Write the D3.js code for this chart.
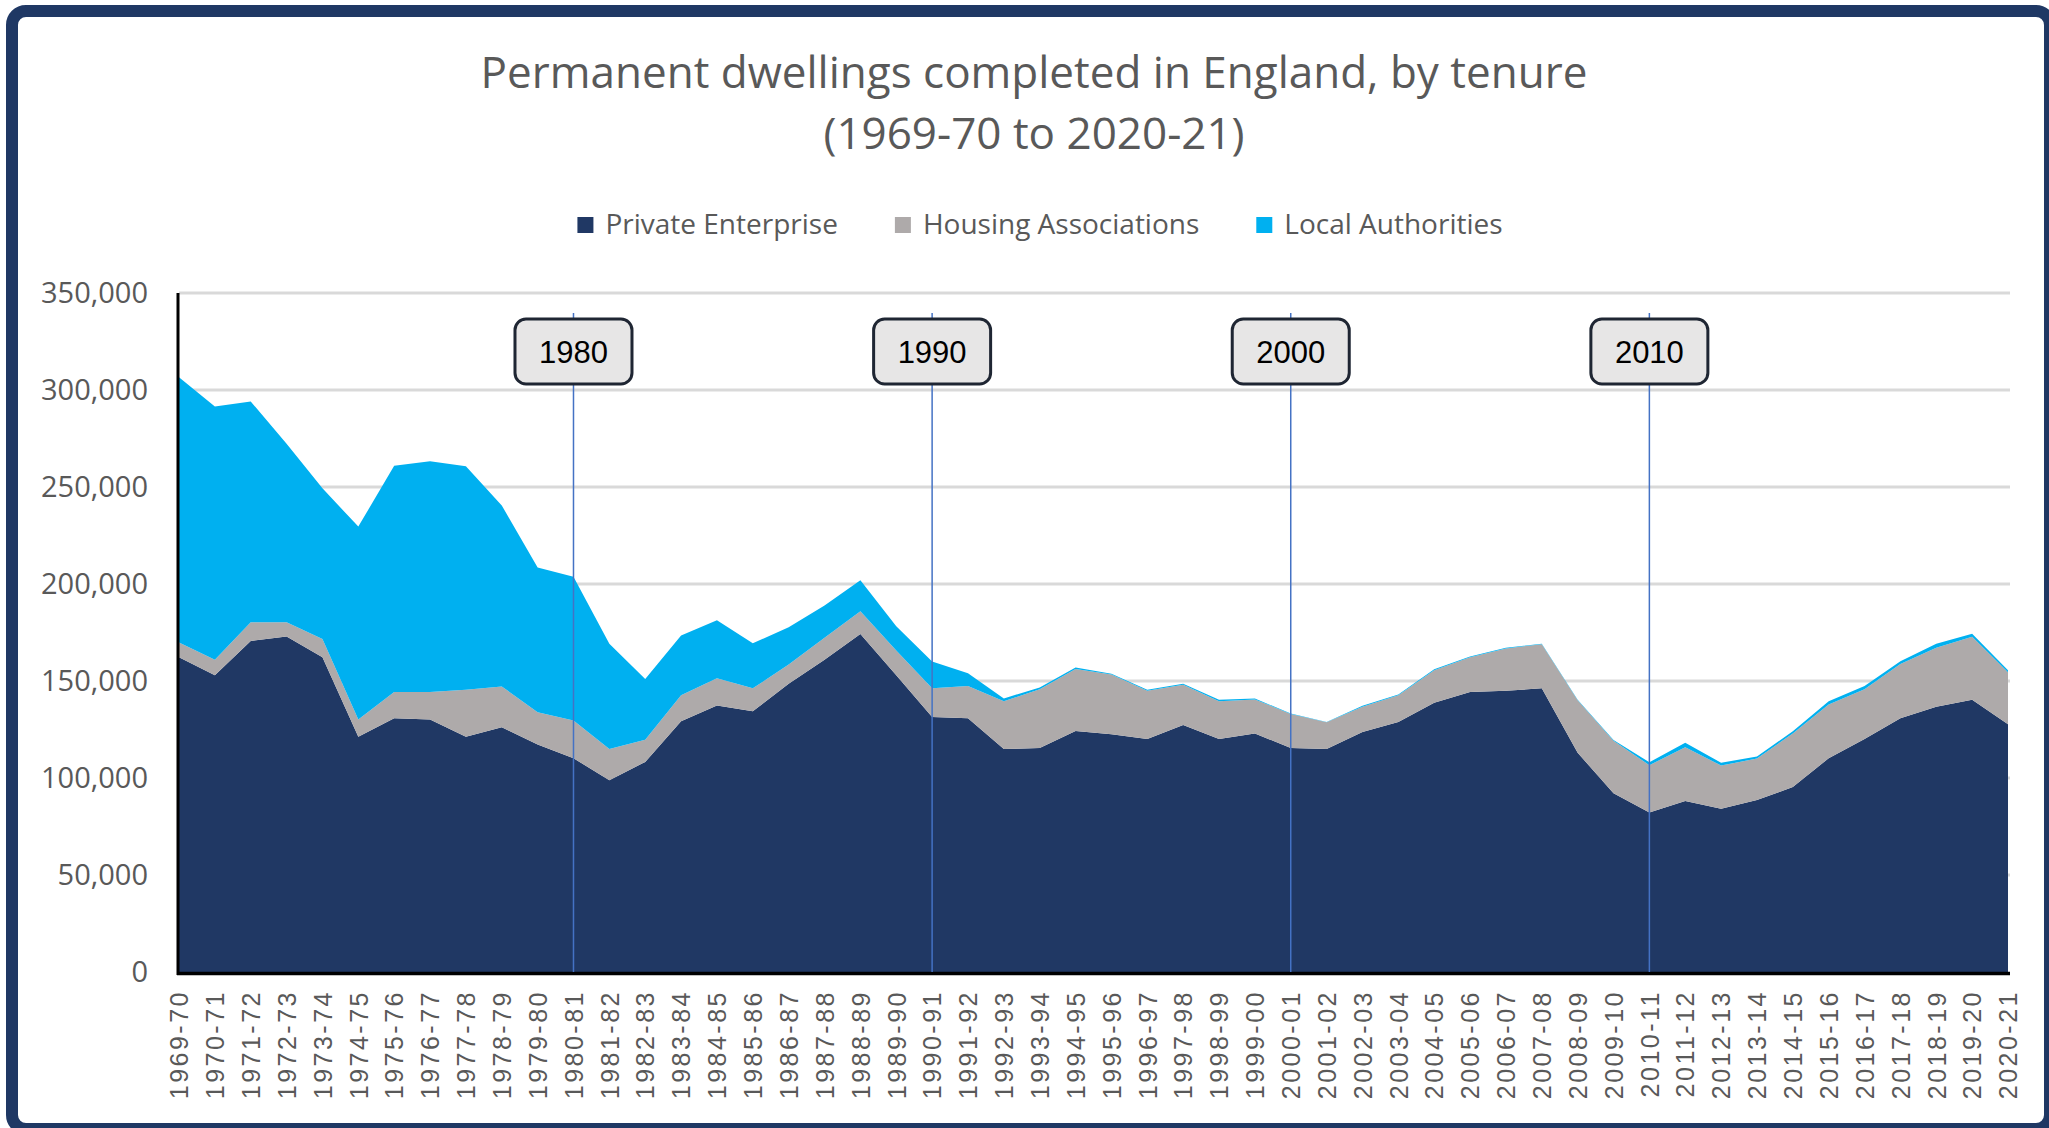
<!DOCTYPE html>
<html><head><meta charset="utf-8">
<script src="https://cdn.jsdelivr.net/npm/d3@7"></script>
<style>body{margin:0;background:#fff;} svg{display:block;}</style>
</head><body><svg id="c" width="2049" height="1128"></svg>
<script>
const titleLines = ["Permanent dwellings completed in England, by tenure", "(1969-70 to 2020-21)"];
const categories = ["1969-70","1970-71","1971-72","1972-73","1973-74","1974-75","1975-76","1976-77","1977-78","1978-79",
  "1979-80","1980-81","1981-82","1982-83","1983-84","1984-85","1985-86","1986-87","1987-88","1988-89",
  "1989-90","1990-91","1991-92","1992-93","1993-94","1994-95","1995-96","1996-97","1997-98","1998-99",
  "1999-00","2000-01","2001-02","2002-03","2003-04","2004-05","2005-06","2006-07","2007-08","2008-09",
  "2009-10","2010-11","2011-12","2012-13","2013-14","2014-15","2015-16","2016-17","2017-18","2018-19",
  "2019-20","2020-21"];
const privateEnterprise = [162300,152900,170600,173000,162300,121300,130800,130100,121300,126100,
  117300,110200,98800,108300,129200,137400,134400,148600,160900,174200,
  152900,131500,130800,114900,115400,124200,122500,120100,127300,120100,
  123000,115400,114900,123700,128900,138800,144300,145000,146200,113000,
  92200,82200,88200,84100,88600,95300,110200,120100,130800,136700,
  140300,127700];
const housingAssociations = [7600,8000,9700,7300,9300,8800,13500,14200,24200,21100,
  16600,19400,16100,11400,13500,14000,11800,9900,11400,11800,
  12800,14700,16600,24700,30300,32000,30800,24900,20800,19500,
  17500,17600,13800,13000,13800,16700,18000,21800,22800,27100,
  27000,24400,27700,22300,21400,27700,27700,25600,28000,30400,
  32500,26800];
const localAuthorities = [136700,130600,113800,92000,77700,99500,116600,119000,115200,93300,
  74600,74200,54300,31300,30800,29900,23200,19200,16600,15900,
  12500,13800,6600,1400,1000,700,500,500,500,700,
  500,200,200,500,300,500,300,300,200,200,
  400,1500,2300,1500,1100,1100,1700,1700,1400,2100,
  1600,1000];
const seriesNames = ["Private Enterprise","Housing Associations","Local Authorities"];
const seriesColors = ["#203864","#AEAAAA","#00B0F0"];
const yTicks = [0,50000,100000,150000,200000,250000,300000,350000];
const decadeLabels = ["1980","1990","2000","2010"];
const decadeCategories = ["1980-81","1990-91","2000-01","2010-11"];

const svg = d3.select("#c");
svg.append("rect").attr("x",12).attr("y",11).attr("width",2038).attr("height",1118)
  .attr("rx",14).attr("fill","#fff").attr("stroke","#1F3864").attr("stroke-width",12);

const L=179, R=2008, T=293, B=972;
const x = d3.scalePoint().domain(categories).range([L,R]);
const y = d3.scaleLinear().domain([0,350000]).range([B,T]);

// title
svg.selectAll("text.title").data(titleLines).join("text").attr("class","title")
  .attr("x",1034).attr("y",(d,i)=>88+i*61).attr("text-anchor","middle")
  .style("font-family","'Open Sans'").style("font-size","44px").style("fill","#595959")
  .text(d=>d);

// gridlines
svg.append("g").selectAll("line").data(yTicks.filter(t=>t>0)).join("line")
  .attr("x1",L).attr("x2",R+2).attr("y1",d=>y(d)).attr("y2",d=>y(d))
  .attr("stroke","#D9D9D9").attr("stroke-width",3);

// stacked areas
const table = categories.map((c,i)=>({cat:c, pe:privateEnterprise[i], ha:housingAssociations[i], la:localAuthorities[i]}));
const keys = ["pe","ha","la"];
const stacked = d3.stack().keys(keys)(table);
const area = d3.area().x(d=>x(d.data.cat)).y0(d=>y(d[0])).y1(d=>y(d[1]));
svg.append("g").selectAll("path").data(stacked).join("path")
  .attr("d",area).attr("fill",(d,i)=>seriesColors[i]);

// y axis labels
const yAxis = svg.append("g").attr("transform",`translate(${L},0)`)
  .call(d3.axisLeft(y).tickValues(yTicks).tickFormat(d3.format(",")).tickSize(0).tickPadding(31));
yAxis.select(".domain").remove();
yAxis.selectAll("text").style("font-family","'Open Sans'").style("font-size","29px").style("fill","#595959");

// x axis labels
const xAxis = svg.append("g").attr("transform",`translate(0,${B})`)
  .call(d3.axisBottom(x).tickSize(0));
xAxis.select(".domain").remove();
xAxis.selectAll("text").attr("transform","rotate(-90)").attr("x",-18).attr("y",0).attr("dy","0.35em")
  .style("text-anchor","end").style("font-family","'Liberation Sans'").style("font-size","25px")
  .style("letter-spacing","2.5px").style("fill","#595959");

// axis lines
svg.append("line").attr("x1",L-1).attr("x2",L-1).attr("y1",T).attr("y2",B+3).attr("stroke","#000").attr("stroke-width",3);
svg.append("line").attr("x1",L-2).attr("x2",R+2).attr("y1",B+1.5).attr("y2",B+1.5).attr("stroke","#000").attr("stroke-width",3.5);

// decade markers
const marks = svg.append("g").selectAll("g").data(decadeLabels).join("g")
  .attr("transform",(d,i)=>`translate(${x(decadeCategories[i])},0)`);
marks.append("line").attr("x1",0).attr("x2",0).attr("y1",313).attr("y2",B)
  .attr("stroke","#4472C4").attr("stroke-width",1.5);
marks.append("rect").attr("x",-58.5).attr("y",319).attr("width",117).attr("height",65).attr("rx",11)
  .attr("fill","#E7E6E6").attr("stroke","#1F2633").attr("stroke-width",3);
marks.append("text").attr("x",0).attr("y",363).attr("text-anchor","middle")
  .style("font-family","'Liberation Sans'").style("font-size","31px").style("fill","#000").text(d=>d);

// legend
const lg = svg.append("g");
const items = lg.selectAll("g").data(seriesNames).join("g");
items.append("rect").attr("x",0).attr("y",217).attr("width",16).attr("height",16).attr("fill",(d,i)=>seriesColors[i]);
items.append("text").attr("x",28).attr("y",234)
  .style("font-family","'Open Sans'").style("font-size","28px").style("fill","#595959").text(d=>d);
let cx = 0;
items.each(function(){
  const g = d3.select(this);
  g.attr("transform",`translate(${cx},0)`);
  cx += 28 + g.select("text").node().getComputedTextLength() + 57;
});
const totalW = cx - 57;
lg.attr("transform",`translate(${1040 - totalW/2},0)`);
</script></body></html>
